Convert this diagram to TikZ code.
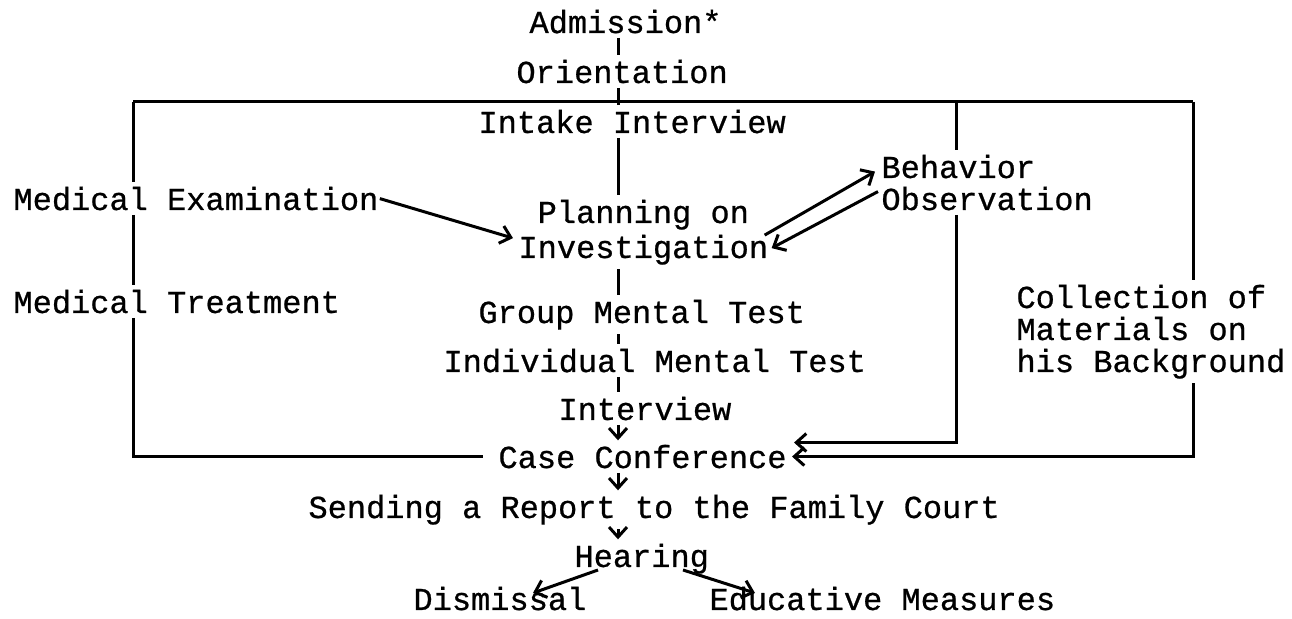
\documentclass[tikz,border=0pt]{standalone}
\usepackage{fontspec}
\setmainfont{Liberation Mono}[FakeBold=0.7]
\usetikzlibrary{calc,arrows.meta}

\tikzset{
  txt/.style={inner xsep=0pt, inner ysep=1.5pt, anchor=base west,
    font=\fontsize{16}{16}\selectfont},
  arr/.style={-{Straight Barb[length=5pt,width=9pt]}}
}

\begin{document}
\begin{tikzpicture}[x=0.5pt,y=-0.5pt,line width=1.5pt]
  \useasboundingbox (0,0) rectangle (1292,619);

  \coordinate (spine) at (618,0);
  \coordinate (tl) at (133,102);
  \coordinate (bo) at (956,102);
  \coordinate (tr) at (1193,102);

  % main column
  \node[txt] (adm) at (528,33) {Admission*};
  \node[txt] (ori) at (515,83) {Orientation};
  \node[txt] (intake) at (477,133) {Intake Interview};
  \node[txt,align=center] (plan) at (517,258) {Planning on\\[1.5pt]Investigation};
  \node[txt] (group) at (477,323) {Group Mental Test};
  \node[txt] (indiv) at (442,372) {Individual Mental Test};
  \node[txt] (intv) at (557,420) {Interview};
  \node[txt] (case) at (497,468) {Case Conference};
  \node[txt] (report) at (307,518) {Sending a Report to the Family Court};
  \node[txt] (hear) at (573,567) {Hearing};
  \node[txt] (dism) at (412,610) {Dismissal};
  \node[txt] (edu) at (708,610) {Educative Measures};

  % side steps
  \node[txt] (medex) at (12,210) {Medical Examination};
  \node[txt] (medtr) at (12,313) {Medical Treatment};
  \node[txt,align=left] (behav) at (880,210) {Behavior\\Observation};
  \node[txt,align=left] (coll) at (1015,372) {Collection of\\Materials on\\his Background};

  \draw (tl) -- (tr);

  \draw (adm.south -| spine) -- (ori.north -| spine);
  \draw (ori.south -| spine) -- (intake.north -| spine);
  \draw (intake.south -| spine) -- (plan.north -| spine);
  \draw (plan.south -| spine) -- (group.north -| spine);
  \draw (group.south -| spine) -- (indiv.north -| spine);
  \draw (indiv.south -| spine) -- (intv.north -| spine);
  \draw[arr] (intv.south -| spine) -- (case.north -| spine);
  \draw[arr] (case.south -| spine) -- (report.north -| spine);
  \draw[arr] (report.south -| spine) -- (hear.north -| spine);
  \draw[arr] ($(hear.base west)+(25,3)$) -- ($(dism.base west)+(121,-17)$);
  \draw[arr] ($(hear.base west)+(110,3)$) -- ($(edu.base west)+(47,-17)$);

  % left loop
  \draw (tl) -- (tl |- medex.north);
  \draw (tl |- medex.south) -- (tl |- medtr.north);
  \draw (tl |- medtr.south) |- ([xshift=-7pt]case.west);
  \draw[arr] (medex.east) -- ($(plan.south west)+(-4,-31)$);

  % observation
  \draw[arr] ($(plan.south east)+(-5,-34)$) -- ($(behav.west)+(-5,-11)$);
  \draw[arr] ($(behav.west)+(-2,9)$) -- ($(plan.south east)+(2,-21)$);
  \draw (bo) -- (bo |- behav.north);
  \draw[arr] (bo |- behav.south) |- ([xshift=3pt,yshift=7pt]case.east);

  % background materials
  \draw (tr) -- (tr |- coll.north);
  \draw[arr] (tr |- coll.south) |- ([xshift=2pt]case.east);
\end{tikzpicture}
\end{document}
